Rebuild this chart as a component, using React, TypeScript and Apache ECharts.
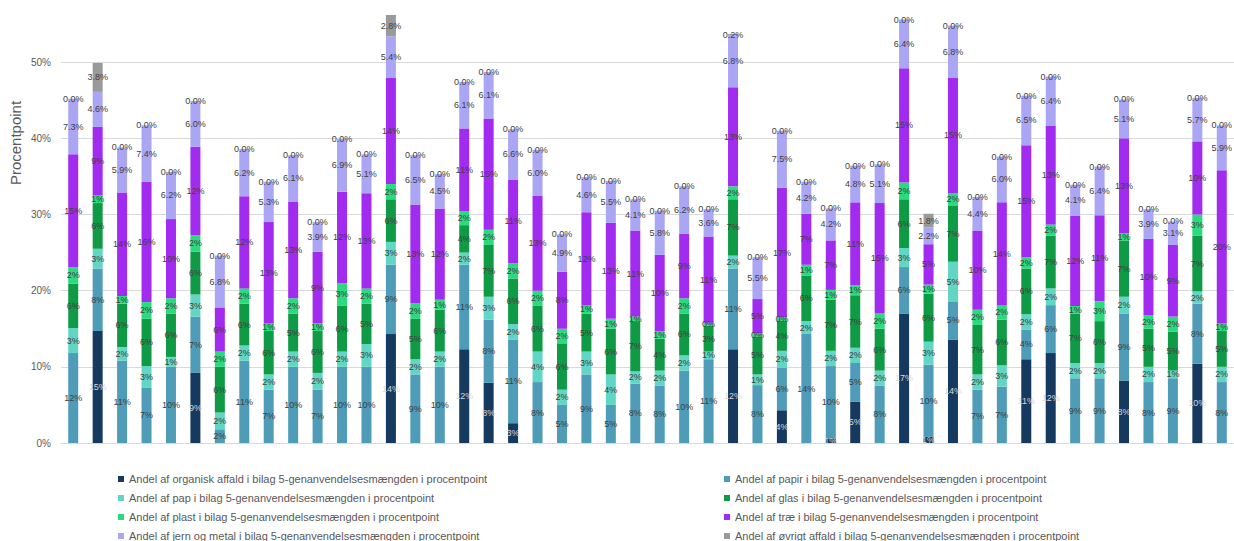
import React, { useEffect, useRef } from "react";
import * as echarts from "echarts";

const categories = ["1","2","3","4","5","6","7","8","9","10","11","12","13","14","15","16","17","18","19","20","21","22","23","24","25","26","27","28","29","30","31","32","33","34","35","36","37","38","39","40","41","42","43","44","45","46","47","48"];

const seriesNames = [
  "Andel af organisk affald i bilag 5-genanvendelsesmængden i procentpoint",
  "Andel af papir i bilag 5-genanvendelsesmængden i procentpoint",
  "Andel af pap i bilag 5-genanvendelsesmængden i procentpoint",
  "Andel af glas i bilag 5-genanvendelsesmængden i procentpoint",
  "Andel af plast i bilag 5-genanvendelsesmængden i procentpoint",
  "Andel af træ i bilag 5-genanvendelsesmængden i procentpoint",
  "Andel af jern og metal i bilag 5-genanvendelsesmængden i procentpoint",
  "Andel af øvrigt affald i bilag 5-genanvendelsesmængden i procentpoint",
];

const organisk = [0,14.7,0,0,0,9.2,0,0,0,0,0,0,0,14.3,0,0,12.3,7.9,2.6,0,0,0,0,0,0,0,0,12.3,0,4.3,0,0.6,5.4,0,17,0.8,13.6,0,0,11,11.8,0,0,8.2,0,0,10.4,0];
const papir = [11.8,8.2,10.8,7.3,10,7.4,1.8,10.8,7,10,7,10,10,9.1,9,10,11.1,8.3,11,8,5,9,5,7.8,7.5,9.5,11,10.6,7.6,5.6,14.3,9.5,5.1,7.5,6.1,9.5,5,7,7.4,3.9,6.3,8.5,8.5,8.8,8,8.5,7.9,8];
const pap = [3.3,2.6,1.8,2.8,1.3,2.9,2.2,2,2,2,2.2,2,3,3,2,2,1.6,3,2,4,2,3,4,1.6,2,2,1,1.7,1.4,2.2,1.7,2,2,2,2.5,3,5.2,2,2.8,2,2.2,2,2,2.2,2,1,1.6,2];
const glas = [5.8,6,5.7,6.2,5.7,5.6,6,5.5,5.7,5,5.5,6,5.3,5.6,5.3,5.5,3.6,6.8,6,6,6,5,6,6.6,4.2,5.5,3.4,7.4,5,4,6,6.7,6.9,5.5,6.4,6.3,7.4,6.5,6,6,6.9,6.5,5.5,7.4,5,5.1,7.3,4.7];
const plast = [2.2,1,1,2.2,2,2.2,2,2,1,2,1,3,2,2,2,1.3,1.8,2,2,2,2,1.1,1.3,0.6,1,2,0.4,1.7,0.4,0.4,1.4,1.3,1.3,2,2.2,1.2,1.6,2,1.9,1.5,1.5,1,2.6,0.9,1.8,2,2.8,1];
const trae = [14.8,9,13.6,15.8,10.4,11.6,5.8,12.1,13.3,12.7,9.4,12,12.5,14,13,12,10.9,14.6,11,12.5,7.5,12.2,12.6,11.3,10,8.5,11.3,13,4.5,17,6.7,6.5,10.9,14.5,15,5.3,15.2,10.4,13.5,14.7,13,11.8,11.3,12.5,10,9.4,9.6,20.1];
const jernMetal = [7.3,4.6,5.9,7.4,6.2,6.0,6.8,6.2,5.3,6.1,3.9,6.9,5.1,5.4,6.5,4.5,6.1,6.1,6.6,6.0,4.9,4.6,5.5,4.1,5.8,6.2,3.6,6.8,5.5,7.5,4.2,4.2,4.8,5.1,6.4,2.2,6.8,4.4,6.0,6.5,6.4,4.1,6.4,5.1,3.9,3.1,5.7,5.9];
const oevrigt = [0,3.8,0,0,0,0,0,0,0,0,0,0,0,2.8,0,0,0,0,0,0,0,0,0,0,0,0,0,0.2,0,0,0,0,0,0,0,1.8,0,0,0,0,0,0,0,0,0,0,0,0];

const yTicks = [0, 10, 20, 30, 40, 50, 60];

const seriesData = [organisk, papir, pap, glas, plast, trae, jernMetal, oevrigt];
const colors = ["#163a5f", "#4e9cb8", "#62d6c4", "#0f9b45", "#2bd97e", "#a22bf0", "#aaa6f3", "#9a9a9a"];
const decimals = [0, 0, 0, 0, 0, 0, 1, 1];

// The chart div is shifted up by 19px so that the (unlabelled) 60% top of the axis lies off-page.
const SHIFT = 19;

export default function App() {
  const ref = useRef<HTMLDivElement>(null);
  useEffect(() => {
    if (!ref.current) return;
    const chart = echarts.init(ref.current, undefined, { renderer: "svg" });
    const font = "'Liberation Sans', Arial, sans-serif";
    const series = seriesNames.map((name, i) => ({
      name,
      type: "bar",
      stack: "total",
      barWidth: 10,
      data: seriesData[i],
      itemStyle: { color: colors[i] },
      label: {
        show: true,
        position: "inside",
        fontSize: 9,
        fontFamily: font,
        color: i === 0 ? "#d8d8d8" : "#404040",
        formatter: (p: any) => {
          const v = p.value as number;
          if (i === 0 && !v) return "";
          return decimals[i] ? v.toFixed(1) + "%" : Math.round(v) + "%";
        },
      },
    }));
    const legendCommon = {
      orient: "vertical",
      top: 468 + SHIFT,
      height: 100,
      itemWidth: 6,
      itemHeight: 6,
      itemGap: 7,
      icon: "rect",
      textStyle: { fontSize: 11, color: "#595959", lineHeight: 12 },
    };
    chart.setOption({
      animation: false,
      textStyle: { fontFamily: font },
      grid: { left: 61, top: 0, width: 1174, height: 462 },
      xAxis: {
        type: "category",
        data: categories,
        axisLabel: { show: false },
        axisTick: { show: false },
        axisLine: { lineStyle: { color: "#d9d9d9" } },
      },
      yAxis: {
        type: "value",
        min: yTicks[0],
        max: yTicks[yTicks.length - 1],
        interval: 10,
        axisLabel: { formatter: (v: number) => v + "%", color: "#595959", fontSize: 10, margin: 10 },
        splitLine: { lineStyle: { color: "#d9d9d9" } },
        axisLine: { show: false },
        axisTick: { show: false },
      },
      legend: [
        { ...legendCommon, left: 113, data: [seriesNames[0], seriesNames[2], seriesNames[4], seriesNames[6]] },
        { ...legendCommon, left: 719, data: [seriesNames[1], seriesNames[3], seriesNames[5], seriesNames[7]] },
      ],
      graphic: [
        {
          type: "text",
          x: 15,
          y: 143 + SHIFT,
          rotation: Math.PI / 2,
          style: {
            text: "Procentpoint",
            fontSize: 15,
            fill: "#595959",
            fontFamily: font,
            textAlign: "center",
            textVerticalAlign: "middle",
          },
        },
      ],
      series,
    });
    return () => chart.dispose();
  }, []);
  return <div ref={ref} style={{ position: "absolute", left: 0, top: -SHIFT, width: 1234, height: 560 }} />;
}
